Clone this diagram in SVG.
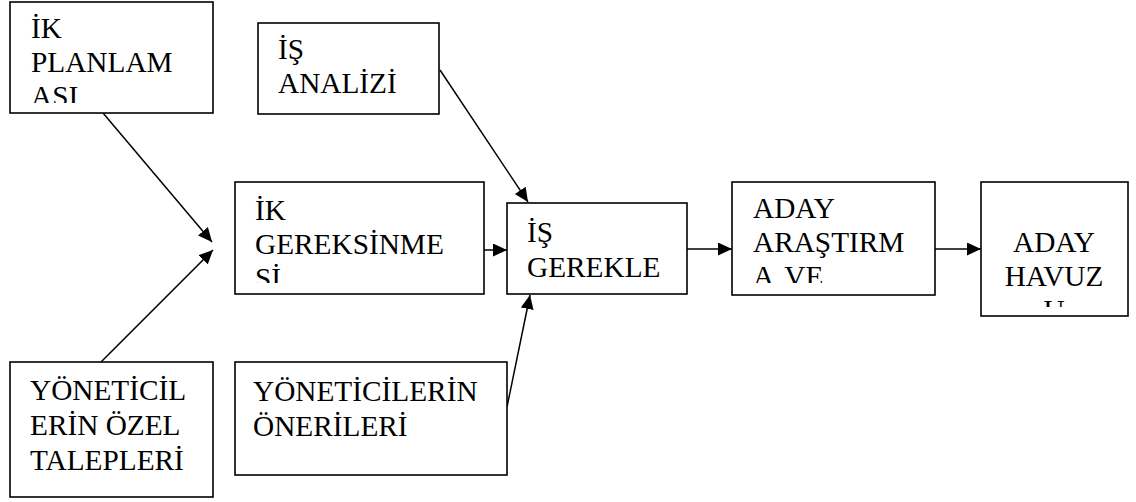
<svg xmlns="http://www.w3.org/2000/svg" width="1136" height="502" viewBox="0 0 1136 502">
  <style>
    .box { fill: #ffffff; stroke: #000000; stroke-width: 1.6; }
    .lbl { font-family: "Liberation Serif", "Times New Roman", serif; font-size: 29.3px; fill: #000000; }
    .mid { text-anchor: middle; }
    .edge { stroke: #000000; stroke-width: 1.5; fill: none; marker-end: url(#arrow); }
  </style>
  <defs>
    <marker id="arrow" markerUnits="userSpaceOnUse" markerWidth="16" markerHeight="14" refX="14" refY="6.5" orient="auto">
      <path d="M0,0 L14,6.5 L0,13 z" fill="#000000"/>
    </marker>
    <!-- text areas: labels that overflow are cut at the inner margin of each box -->
    <clipPath id="c-ik-plan"><rect x="10" y="2" width="203" height="101"/></clipPath>
    <clipPath id="c-ik-ger"><rect x="235" y="182" width="249" height="101"/></clipPath>
    <clipPath id="c-aday-ar"><rect x="732" y="182" width="203" height="101"/></clipPath>
    <clipPath id="c-aday-hav"><rect x="981" y="182" width="147" height="125"/></clipPath>
  </defs>

  <g id="connectors">
    <line class="edge" x1="103" y1="113" x2="212" y2="242"/>
    <line class="edge" x1="101" y1="362" x2="213" y2="250"/>
    <line class="edge" x1="440" y1="70" x2="528" y2="202"/>
    <line class="edge" x1="507" y1="407" x2="530" y2="295"/>
    <line class="edge" x1="484" y1="250" x2="507" y2="250"/>
    <line class="edge" x1="687" y1="249" x2="732" y2="249"/>
    <line class="edge" x1="935" y1="249" x2="981" y2="249"/>
  </g>

  <g id="ik-planlamasi">
    <rect class="box" x="10" y="2" width="203" height="111"/>
    <g clip-path="url(#c-ik-plan)">
      <text class="lbl" x="31" y="38">İK</text>
      <text class="lbl" x="31" y="72">PLANLAM</text>
      <text class="lbl" x="31" y="106">ASI</text>
    </g>
  </g>

  <g id="is-analizi">
    <rect class="box" x="258" y="23" width="181" height="91"/>
    <text class="lbl" x="278" y="59">İŞ</text>
    <text class="lbl" x="278" y="93">ANALİZİ</text>
  </g>

  <g id="ik-gereksinmesi">
    <rect class="box" x="235" y="182" width="249" height="112"/>
    <g clip-path="url(#c-ik-ger)">
      <text class="lbl" x="255" y="220">İK</text>
      <text class="lbl" x="255" y="254">GEREKSİNME</text>
      <text class="lbl" x="255" y="288">Sİ</text>
    </g>
  </g>

  <g id="is-gerekleri">
    <rect class="box" x="507" y="203" width="180" height="91"/>
    <text class="lbl" x="527" y="242">İŞ</text>
    <text class="lbl" x="527" y="277">GEREKLE</text>
  </g>

  <g id="aday-arastirma">
    <rect class="box" x="732" y="182" width="203" height="113"/>
    <g clip-path="url(#c-aday-ar)">
      <text class="lbl" x="753" y="218">ADAY</text>
      <text class="lbl" x="753" y="252">ARAŞTIRM</text>
      <text class="lbl" x="753" y="286" word-spacing="5">A VE</text>
    </g>
  </g>

  <g id="aday-havuzu">
    <rect class="box" x="981" y="182" width="147" height="134"/>
    <g clip-path="url(#c-aday-hav)">
      <text class="lbl mid" x="1054" y="252">ADAY</text>
      <text class="lbl mid" x="1054" y="286">HAVUZ</text>
      <text class="lbl mid" x="1054" y="320">U</text>
    </g>
  </g>

  <g id="yoneticilerin-ozel-talepleri">
    <rect class="box" x="10" y="362" width="203" height="135"/>
    <text class="lbl" x="30" y="400">YÖNETİCİL</text>
    <text class="lbl" x="30" y="435">ERİN ÖZEL</text>
    <text class="lbl" x="30" y="470">TALEPLERİ</text>
  </g>

  <g id="yoneticilerin-onerileri">
    <rect class="box" x="235" y="362" width="272" height="113"/>
    <text class="lbl" x="253" y="401">YÖNETİCİLERİN</text>
    <text class="lbl" x="253" y="436">ÖNERİLERİ</text>
  </g>
</svg>
